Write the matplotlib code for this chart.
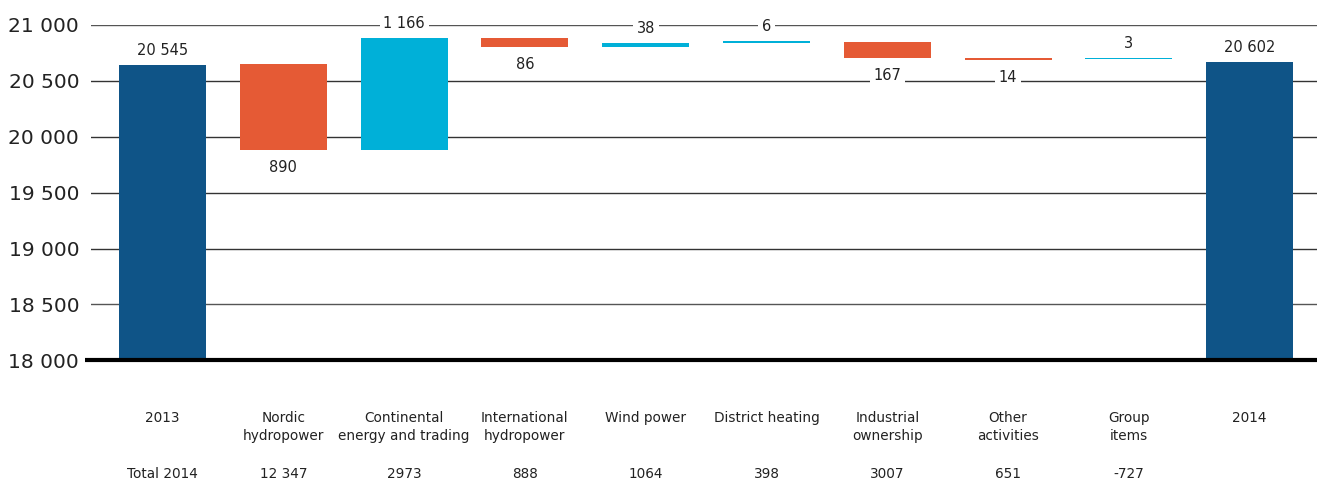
import matplotlib
matplotlib.use("Agg")
import matplotlib.pyplot as plt
import matplotlib.transforms as mtransforms

# ---------------- data ----------------
categories = ["2013", "Nordic\nhydropower", "Continental\nenergy and trading",
              "International\nhydropower", "Wind power", "District heating",
              "Industrial\nownership", "Other\nactivities", "Group\nitems", "2014"]
totals_2014 = ["Total 2014", "12 347", "2973", "888", "1064", "398", "3007", "651", "-727", ""]
value_labels = ["20 545", "890", "1 166", "86", "38", "6", "167", "14", "3", "20 602"]
# bar extents as drawn in the reference (value axis units)
bar_bottom = [18000, 19882, 19882, 20806, 20803, 20839, 20707, 20687, 20698, 18000]
bar_top    = [20642, 20654, 20884, 20884, 20842, 20857, 20848, 20705, 20707, 20669]
bar_kind   = ["total", "neg", "pos", "neg", "pos", "pos", "neg", "neg", "pos", "total"]
y_ticks = [18000, 18500, 19000, 19500, 20000, 20500, 21000]
y_tick_labels = ["18 000", "18 500", "19 000", "19 500", "20 000", "20 500", "21 000"]

colors = {"total": "#0f5487", "neg": "#e55a35", "pos": "#00b0d8"}

W, H = 1317, 480
fig = plt.figure(figsize=(W / 100, H / 100), dpi=100)
ax = fig.add_axes([91 / W, 1 - 360.3 / H, 1 - 91 / W, (360.3 - 25) / H])

x = list(range(len(categories)))
heights = [t - b for t, b in zip(bar_top, bar_bottom)]
ax.bar(x, heights, bottom=bar_bottom, width=0.72,
       color=[colors[k] for k in bar_kind], zorder=3)

ax.set_ylim(18000, 21000)
ax.set_xlim(-0.592, 9.557)

# gridlines
for yt in y_ticks[1:]:
    ax.axhline(yt, color="#555555" if yt in (18500, 21000) else "#333333",
               lw=1.0, zorder=1)
ax.plot([-0.645, 9.557], [18000, 18000], color="black", lw=3, zorder=4,
        clip_on=False, solid_capstyle="butt")

ax.set_yticks(y_ticks)
ax.set_yticklabels(y_tick_labels, fontsize=14.5, color="#222222")
ax.tick_params(axis="y", length=0, pad=8.5)
ax.set_xticks([])
for s in ax.spines.values():
    s.set_visible(False)

# value labels
for i, (lab, kind) in enumerate(zip(value_labels, bar_kind)):
    if kind == "neg":
        ax.annotate(lab, (x[i], bar_bottom[i]), xytext=(0, -12.6),
                    textcoords="offset points", ha="center", va="center",
                    fontsize=10.5, color="#222222", zorder=5,
                    bbox=dict(boxstyle="square,pad=0.25", fc="white", ec="none"))
    else:
        ax.annotate(lab, (x[i], bar_top[i]), xytext=(0, 10.4),
                    textcoords="offset points", ha="center", va="center",
                    fontsize=10.5, color="#222222", zorder=5, annotation_clip=False,
                    bbox=dict(boxstyle="square,pad=0.25", fc="white", ec="none"))

# category labels
trans = mtransforms.blended_transform_factory(ax.transData, fig.transFigure)
for i, (c, t) in enumerate(zip(categories, totals_2014)):
    ax.text(x[i], 1 - 411 / H, c, transform=trans, ha="center", va="top",
            fontsize=9.8, color="#222222", linespacing=1.35)
    if t:
        ax.text(x[i], 1 - 474 / H, t, transform=trans, ha="center", va="center",
                fontsize=9.8, color="#222222")

fig.savefig("out.png", dpi=100)
